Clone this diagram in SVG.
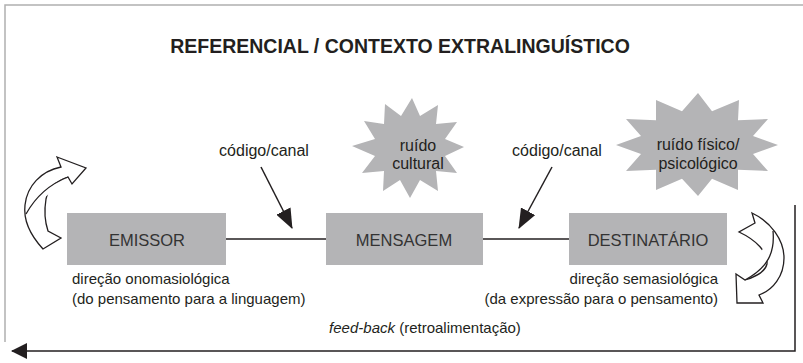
<svg xmlns="http://www.w3.org/2000/svg" width="803" height="363" viewBox="0 0 803 363">
  <style>
    .t { font-family: "Liberation Sans", Arial, sans-serif; fill: #231f20; }
    .box { fill: #b4b4b6; }
    .star { fill: #b4b4b6; }
    .lbl { font-size: 16px; text-anchor: middle; }
    .big { font-size: 16.5px; fill: #333333; }
    .note { font-size: 15px; }
    .conn { stroke: #231f20; stroke-width: 1.5; fill: none; }
    .frame { stroke: #b0b0b0; stroke-width: 1.5; fill: none; }
    .curl { fill: #ffffff; stroke: #231f20; stroke-width: 1.3; stroke-linejoin: miter; }
  </style>
  <defs>
    <marker id="head" viewBox="0 0 20 16" refX="19" refY="8" markerWidth="20" markerHeight="16" markerUnits="userSpaceOnUse" orient="auto">
      <path d="M0,0 L20,8 L0,16 Z" fill="#231f20"/>
    </marker>
    <marker id="fbhead" viewBox="0 0 16 16" refX="15" refY="8" markerWidth="16" markerHeight="16" markerUnits="userSpaceOnUse" orient="auto">
      <path d="M0,0 L16,8 L0,16 Z" fill="#231f20"/>
    </marker>
  </defs>

  <rect width="803" height="363" fill="#ffffff"/>

  <g id="frame">
    <polyline class="frame" points="5,342 5,5 803,5"/>
  </g>

  <g id="title">
    <text class="t" x="400" y="53" font-size="19.5" font-weight="bold" text-anchor="middle">REFERENCIAL / CONTEXTO EXTRALINGUÍSTICO</text>
  </g>

  <g id="connectors">
    <line class="conn" x1="226" y1="239" x2="326" y2="239"/>
    <line class="conn" x1="483" y1="239" x2="569" y2="239"/>
    <line class="conn" stroke-width="2" x1="261" y1="167" x2="292" y2="228" marker-end="url(#head)"/>
    <line class="conn" stroke-width="2" x1="552" y1="167" x2="519" y2="228" marker-end="url(#head)"/>
    <polyline class="conn" points="795,205 795,351 12,351" marker-end="url(#fbhead)"/>
  </g>

  <g id="codigo-canal-1">
    <text class="t lbl" x="264" y="156">código/canal</text>
  </g>
  <g id="codigo-canal-2">
    <text class="t lbl" x="557" y="156">código/canal</text>
  </g>

  <g id="emissor">
    <rect class="box" x="67" y="213" width="159" height="52"/>
    <text class="t lbl big" x="147" y="246">EMISSOR</text>
    <text class="t note" x="72" y="284">direção onomasiológica</text>
    <text class="t note" x="72" y="304">(do pensamento para a linguagem)</text>
  </g>

  <g id="mensagem">
    <rect class="box" x="326" y="213" width="157" height="52"/>
    <text class="t lbl big" x="404" y="246">MENSAGEM</text>
  </g>

  <g id="destinatario">
    <rect class="box" x="569" y="213" width="158" height="52"/>
    <text class="t lbl big" x="648" y="246">DESTINATÁRIO</text>
    <text class="t note" x="718" y="284" text-anchor="end">direção semasiológica</text>
    <text class="t note" x="718" y="304" text-anchor="end">(da expressão para o pensamento)</text>
  </g>

  <g id="ruido-cultural">
    <polygon class="star" points="412,98 420,116 438,105 436,124 457,122 445,139 464,147 445,156 457,173 436,171 438,191 420,180 410,198 400,180 383,191 384,171 362,173 375,156 352,146 375,139 364,121 384,124 385,104 401,116"/>
    <text class="t lbl" x="418" y="151">ruído</text>
    <text class="t lbl" x="418" y="169">cultural</text>
  </g>

  <g id="ruido-fisico">
    <polygon class="star" points="698,93 712,111.2 739,100 738,120.3 768,119 753,135.9 778,145 753,154.1 768,171 738,169.7 738,190 712,178.8 698,196 682,178.8 656,190 656,169.7 626,171 641,154.1 616,145 641,135.9 626,119 656,120.3 656,100 682,111.2"/>
    <text class="t lbl" x="698" y="150">ruído físico/</text>
    <text class="t lbl" x="698" y="169">psicológico</text>
  </g>

  <g id="curl-left">
    <path class="curl" d="M57,157 L86,168 L72,184 L68,177 C56,181 48,189 46,199 C44,211 45,222 48,231 L61,238 L43,249 C32,237 23,222 25,205 C27,186 41,171 61,167 Z"/>
    <path class="curl" fill="none" d="M26,214 C36,196 50,184 68,177"/>
  </g>

  <g id="curl-right">
    <path class="curl" d="M737,303 L736,274 L745,280 C755,277 765,272 767,264 C768,252 756,240 739,232 L755,223 L752,213 C771,222 784,240 784,258 C784,276 773,290 759,295 L763,303 Z"/>
    <path class="curl" fill="none" d="M773,231 C775,252 768,268 745,280"/>
  </g>

  <g id="feedback-label">
    <text class="t note" x="425" y="333" text-anchor="middle"><tspan font-style="italic">feed-back</tspan> (retroalimentação)</text>
  </g>
</svg>
